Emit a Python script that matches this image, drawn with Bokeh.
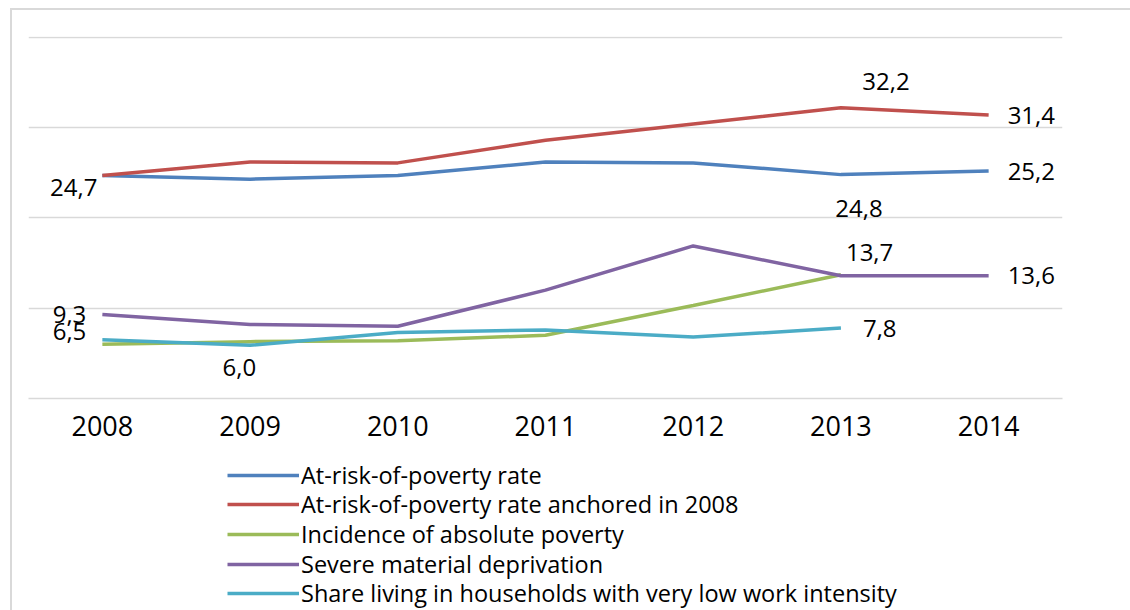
from bokeh.plotting import figure
from bokeh.layouts import column
from bokeh.models import (ColumnDataSource, LabelSet, Legend, LegendItem, Range1d,
                          FactorRange, FixedTicker)
from bokeh.core.properties import value
from bokeh.embed import file_html
from bokeh.resources import INLINE

# ---------------- data ----------------
years = ["2008", "2009", "2010", "2011", "2012", "2013", "2014"]
arop = [24.7, 24.3, 24.7, 26.2, 26.1, 24.8, 25.2]
arop_anchored = [24.7, 26.2, 26.1, 28.6, 30.4, 32.2, 31.4]
absolute_poverty = [6.0, 6.3, 6.4, 7.0, 10.3, 13.7]          # 2008-2013
severe_deprivation = [9.3, 8.2, 8.0, 12.0, 16.9, 13.6, 13.6]
low_work_intensity = [6.5, 5.9, 7.3, 7.6, 6.8, 7.8]           # 2008-2013

series_names = [
    "At-risk-of-poverty rate",
    "At-risk-of-poverty rate anchored in 2008",
    "Incidence of absolute poverty",
    "Severe material deprivation",
    "Share living in households with very low work intensity",
]
series_values = [arop, arop_anchored, absolute_poverty, severe_deprivation, low_work_intensity]
series_colors = ["#4F81BD", "#C0504D", "#9BBB59", "#8064A2", "#4BACC6"]
grid_ticks = [0, 10, 20, 30, 40]

# data labels: (series index, year index)
label_points = [(0, 0), (1, 5), (1, 6), (0, 6), (0, 5), (2, 5), (3, 6), (4, 5), (3, 0), (4, 0), (2, 0)]
# label placement (screen offsets / alignment)
label_style = [(-5, -12, "right"), (45, 26, "center"), (19, 0, "left"), (19, 0, "left"),
               (18, -34, "center"), (5, 22, "left"), (19, 0, "left"), (22, 0, "left"),
               (-16, 0, "right"), (-16, 8, "right"), (137, -23, "center")]

FONT = "Open Sans"
BX, BY = 12, 10   # outer chart-area border offset (left, top)
LEG_H = 155       # legend strip height
ROW_H = 32        # legend row box height
ROW0, ROW_STEP = 20, 29.5   # first legend row centre (from strip top) and row pitch

# ---------------- main chart ----------------
p = figure(width=1130 - BX, height=455 - BY, output_backend="svg", toolbar_location=None,
           x_range=FactorRange(*years, range_padding=0), y_range=Range1d(0, 40.1),
           min_border_left=28 - BX, min_border_right=68, min_border_top=36 - BY,
           min_border_bottom=57)
p.outline_line_color = None
p.background_fill_color = "white"
p.border_fill_color = "white"

p.yaxis.visible = False
p.xgrid.visible = False
p.ygrid.ticker = FixedTicker(ticks=grid_ticks)
p.ygrid.grid_line_color = "#D9D9D9"
p.ygrid.grid_line_width = 1.5

xa = p.xaxis[0]
xa.axis_line_color = "#D9D9D9"
xa.axis_line_width = 1.5
xa.major_tick_line_color = None
xa.minor_tick_line_color = None
xa.major_label_text_font = FONT
xa.major_label_text_font_size = "27px"
xa.major_label_text_color = "black"
xa.major_label_standoff = 11

for vals, col in zip(series_values, series_colors):
    src = ColumnDataSource(dict(x=years[:len(vals)], y=vals))
    p.line("x", "y", source=src, line_color=col, line_width=3.5)

lx, ly, lt, xo, yo, al = [], [], [], [], [], []
for (si, yi), (dx, dy, a) in zip(label_points, label_style):
    v = series_values[si][yi]
    lx.append(years[yi]); ly.append(v); lt.append(f"{v:.1f}".replace(".", ","))
    xo.append(dx); yo.append(dy); al.append(a)
lsrc = ColumnDataSource(dict(x=lx, y=ly, text=lt, xo=xo, yo=yo, al=al))
p.add_layout(LabelSet(x="x", y="y", text="text", source=lsrc, x_offset="xo", y_offset="yo",
                      text_align="al", text_baseline="middle", text_font=value(FONT),
                      text_font_size="24px", text_color="black"))

# ---------------- legend strip ----------------
lg = figure(width=1130 - BX, height=LEG_H, output_backend="svg", toolbar_location=None,
            x_range=FactorRange(*years, range_padding=0), y_range=Range1d(1000, 1001),
            x_axis_location=None, y_axis_location=None,
            min_border_left=0, min_border_right=0, min_border_top=0, min_border_bottom=0)
lg.outline_line_color = None
lg.xgrid.visible = False
lg.ygrid.visible = False
for i, (name, vals, col) in enumerate(zip(series_names, series_values, series_colors)):
    src = ColumnDataSource(dict(x=years[:len(vals)], y=vals))
    r = lg.line("x", "y", source=src, line_color=col, line_width=3.5)
    centre = ROW0 + ROW_STEP * i
    ypos = int(round(LEG_H - centre - ROW_H / 2))
    leg = Legend(items=[LegendItem(label=name, renderers=[r])],
                 location=(228 - BX - 17, ypos), orientation="vertical",
                 glyph_width=72, glyph_height=ROW_H, label_height=ROW_H, spacing=0,
                 padding=0, margin=0, label_standoff=2,
                 border_line_color=None, background_fill_alpha=0,
                 label_text_font=FONT, label_text_font_size="23.5px", label_text_color="black")
    lg.add_layout(leg, "center")

layout = column(p, lg, spacing=0,
                styles={"border-left": "2px solid #D9D9D9", "border-top": "2px solid #D9D9D9",
                        "margin-left": f"{BX - 2}px", "margin-top": f"{BY - 2}px"})

open("out.html", "w").write(file_html(layout, INLINE))
